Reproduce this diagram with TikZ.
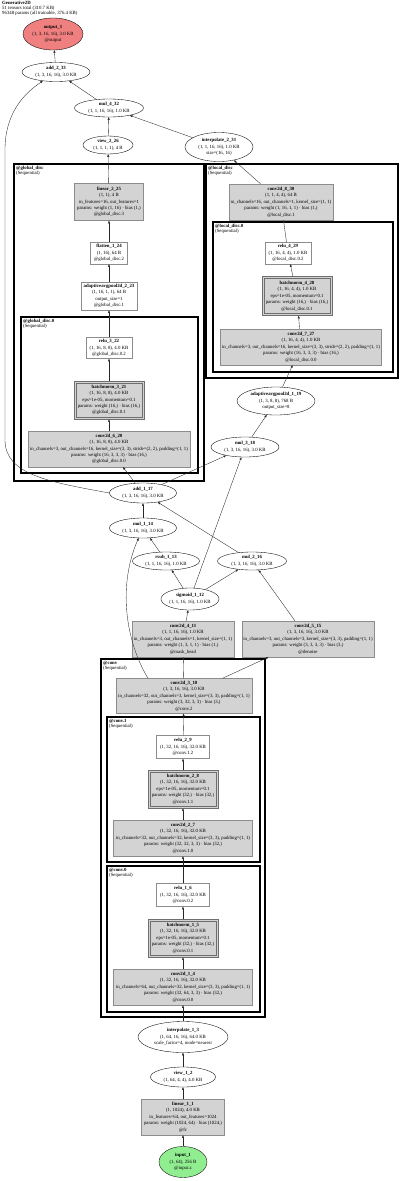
\documentclass[tikz,border=0pt]{standalone}
\usepackage{fontspec}
\setmainfont{Liberation Serif}
\usetikzlibrary{arrows.meta,shapes.geometric}
\definecolor{greyfill}{HTML}{D3D3D3}
\definecolor{greyline}{HTML}{8C8C8C}
\definecolor{normline}{HTML}{6E6E6E}
\definecolor{outred}{HTML}{F08080}
\definecolor{ingreen}{HTML}{90EE90}
\tikzset{>={Triangle[length=2.6pt,width=2pt]},every node/.style={font=\fontsize{4.8}{6.4}\selectfont,align=center},oval/.style={ellipse,draw=black,line width=.35pt,inner sep=0pt},plainbox/.style={draw=greyline,line width=.35pt,fill=white,inner sep=1.5pt},greybox/.style={draw=greyline,line width=.35pt,fill=greyfill,inner sep=1.5pt},normbox/.style={draw=normline,line width=.6pt,fill=greyfill,inner sep=1.5pt,path picture={\draw[normline,line width=.6pt] ([shift={(2pt,-2pt)}]path picture bounding box.north west) rectangle ([shift={(-2pt,2pt)}]path picture bounding box.south east);}},cluster/.style={draw=black,line width=1.7pt},clabel/.style={anchor=north west,inner sep=0pt,font=\fontsize{4.8}{5.2}\selectfont,align=left},arr/.style={->,line width=.35pt,black!85}}
\begin{document}
\begin{tikzpicture}[x=1pt,y=-1pt]
\useasboundingbox (0,0) rectangle (400,1181);
\node[clabel] (title) at (2,1) {\textbf{Generative2D}\\51 tensors total (310.7 KB)\\96348 params (all trainable, 376.4 KB)};
% clusters
\draw[cluster] (14,164) rectangle (204,481);
\draw[cluster] (21,317) rectangle (198,473);
\draw[cluster] (206,164) rectangle (398,378);
\draw[cluster] (213,222) rectangle (393,372);
\draw[cluster] (101,659) rectangle (265,1017);
\draw[cluster] (107,717) rectangle (260,862);
\draw[cluster] (107,866) rectangle (260,1012);
\node[clabel] (gdlab) at (16,166) {\textbf{@global\_disc}\\(Sequential)};
\node[clabel] (gd0lab) at (23,319) {\textbf{@global\_disc.0}\\(Sequential)};
\node[clabel] (ldlab) at (208,166) {\textbf{@local\_disc}\\(Sequential)};
\node[clabel] (ld0lab) at (215,224) {\textbf{@local\_disc.0}\\(Sequential)};
\node[clabel] (cvlab) at (103,661) {\textbf{@conv}\\(Sequential)};
\node[clabel] (cv1lab) at (109,719) {\textbf{@conv.1}\\(Sequential)};
\node[clabel] (cv0lab) at (109,868) {\textbf{@conv.0}\\(Sequential)};
% top
\node[oval,fill=outred,minimum width=60pt,minimum height=32pt] (output1) at (53,34) {\textbf{output\_1}\\(1, 3, 16, 16), 3.0 KB\\@output};
\node[oval,minimum width=68pt,minimum height=19pt] (add233) at (56,72) {\textbf{add\_2\_33}\\(1, 3, 16, 16), 3.0 KB};
\node[oval,minimum width=69pt,minimum height=18pt] (mul432) at (109,108) {\textbf{mul\_4\_32}\\(1, 1, 16, 16), 1.0 KB};
\node[oval,minimum width=50pt,minimum height=18pt] (view226) at (108,145) {\textbf{view\_2\_26}\\(1, 1, 1, 1), 4 B};
\node[oval,minimum width=68pt,minimum height=29pt] (interp231) at (219,147) {\textbf{interpolate\_2\_31}\\(1, 1, 16, 16), 1.0 KB\\size=(16, 16)};
% global disc
\node[greybox,minimum width=69pt,minimum height=37pt] (linear225) at (109,202) {\textbf{linear\_2\_25}\\(1, 1), 4 B\\in\_features=16, out\_features=1\\params: weight (1, 16) · bias (1,)\\@global\_disc.3};
\node[plainbox,minimum width=37pt,minimum height=22pt] (flat124) at (109,253) {\textbf{flatten\_1\_24}\\(1, 16), 64 B\\@global\_disc.2};
\node[plainbox,minimum width=56pt,minimum height=28pt] (pool223) at (109,296) {\textbf{adaptiveavgpool2d\_2\_23}\\(1, 16, 1, 1), 64 B\\output\_size=1\\@global\_disc.1};
\node[plainbox,minimum width=46pt,minimum height=21pt] (relu322) at (109,348) {\textbf{relu\_3\_22}\\(1, 16, 8, 8), 4.0 KB\\@global\_disc.0.2};
\node[normbox,minimum width=70pt,minimum height=38pt] (bn321) at (109,400) {\textbf{batchnorm\_3\_21}\\(1, 16, 8, 8), 4.0 KB\\eps=1e-05, momentum=0.1\\params: weight (16,) · bias (16,)\\@global\_disc.0.1};
\node[greybox,minimum width=162pt,minimum height=36pt] (conv620) at (109,449) {\textbf{conv2d\_6\_20}\\(1, 16, 8, 8), 4.0 KB\\in\_channels=3, out\_channels=16, kernel\_size=(3, 3), stride=(2, 2), padding=(1, 1)\\params: weight (16, 3, 3, 3) · bias (16,)\\@global\_disc.0.0};
% local disc
\node[greybox,minimum width=102pt,minimum height=36pt] (conv830) at (281,202) {\textbf{conv2d\_8\_30}\\(1, 1, 4, 4), 64 B\\in\_channels=16, out\_channels=1, kernel\_size=(1, 1)\\params: weight (1, 16, 1, 1) · bias (1,)\\@local\_disc.1};
\node[plainbox,minimum width=46pt,minimum height=22pt] (relu429) at (288,253) {\textbf{relu\_4\_29}\\(1, 16, 4, 4), 1.0 KB\\@local\_disc.0.2};
\node[normbox,minimum width=70pt,minimum height=39pt] (bn428) at (297,296) {\textbf{batchnorm\_4\_28}\\(1, 16, 4, 4), 1.0 KB\\eps=1e-05, momentum=0.1\\params: weight (16,) · bias (16,)\\@local\_disc.0.1};
\node[greybox,minimum width=161pt,minimum height=36pt] (conv727) at (301,347) {\textbf{conv2d\_7\_27}\\(1, 16, 4, 4), 1.0 KB\\in\_channels=3, out\_channels=16, kernel\_size=(3, 3), stride=(2, 2), padding=(1, 1)\\params: weight (16, 3, 3, 3) · bias (16,)\\@local\_disc.0.0};
% middle
\node[oval,minimum width=78pt,minimum height=28pt] (pool119) at (276,401) {\textbf{adaptiveavgpool2d\_1\_19}\\(1, 3, 8, 8), 768 B\\output\_size=8};
\node[oval,minimum width=68pt,minimum height=20pt] (mul318) at (245,447) {\textbf{mul\_3\_18}\\(1, 3, 16, 16), 3.0 KB};
\node[oval,minimum width=67pt,minimum height=20pt] (add117) at (143,493) {\textbf{add\_1\_17}\\(1, 3, 16, 16), 3.0 KB};
\node[oval,minimum width=67pt,minimum height=20pt] (mul114) at (143,528) {\textbf{mul\_1\_14}\\(1, 3, 16, 16), 3.0 KB};
\node[oval,minimum width=67pt,minimum height=18pt] (rsub113) at (166,561) {\textbf{rsub\_1\_13}\\(1, 1, 16, 16), 1.0 KB};
\node[oval,minimum width=69pt,minimum height=18pt] (mul216) at (252,561) {\textbf{mul\_2\_16}\\(1, 3, 16, 16), 3.0 KB};
\node[oval,minimum width=57pt,minimum height=22pt] (sig112) at (190,599) {\textbf{sigmoid\_1\_12}\\(1, 1, 16, 16), 1.0 KB};
\node[greybox,minimum width=102pt,minimum height=36pt] (conv411) at (183,639) {\textbf{conv2d\_4\_11}\\(1, 1, 16, 16), 1.0 KB\\in\_channels=3, out\_channels=1, kernel\_size=(1, 1)\\params: weight (1, 3, 1, 1) · bias (1,)\\@mask\_head};
\node[greybox,minimum width=132pt,minimum height=36pt] (conv515) at (308,639) {\textbf{conv2d\_5\_15}\\(1, 3, 16, 16), 3.0 KB\\in\_channels=3, out\_channels=3, kernel\_size=(3, 3), padding=(1, 1)\\params: weight (3, 3, 3, 3) · bias (3,)\\@denoise};
% conv
\node[greybox,minimum width=136pt,minimum height=35pt] (conv310) at (184,696) {\textbf{conv2d\_3\_10}\\(1, 3, 16, 16), 3.0 KB\\in\_channels=32, out\_channels=3, kernel\_size=(3, 3), padding=(1, 1)\\params: weight (3, 32, 3, 3) · bias (3,)\\@conv.2};
\node[plainbox,minimum width=53pt,minimum height=23pt] (relu29) at (183,747) {\textbf{relu\_2\_9}\\(1, 32, 16, 16), 32.0 KB\\@conv.1.2};
\node[normbox,minimum width=70pt,minimum height=38pt] (bn28) at (183,789) {\textbf{batchnorm\_2\_8}\\(1, 32, 16, 16), 32.0 KB\\eps=1e-05, momentum=0.1\\params: weight (32,) · bias (32,)\\@conv.1.1};
\node[greybox,minimum width=139pt,minimum height=36pt] (conv27) at (183,838) {\textbf{conv2d\_2\_7}\\(1, 32, 16, 16), 32.0 KB\\in\_channels=32, out\_channels=32, kernel\_size=(3, 3), padding=(1, 1)\\params: weight (32, 32, 3, 3) · bias (32,)\\@conv.1.0};
\node[plainbox,minimum width=53pt,minimum height=23pt] (relu16) at (183,895) {\textbf{relu\_1\_6}\\(1, 32, 16, 16), 32.0 KB\\@conv.0.2};
\node[normbox,minimum width=70pt,minimum height=38pt] (bn15) at (183,938) {\textbf{batchnorm\_1\_5}\\(1, 32, 16, 16), 32.0 KB\\eps=1e-05, momentum=0.1\\params: weight (32,) · bias (32,)\\@conv.0.1};
\node[greybox,minimum width=139pt,minimum height=36pt] (conv14) at (183,987) {\textbf{conv2d\_1\_4}\\(1, 32, 16, 16), 32.0 KB\\in\_channels=64, out\_channels=32, kernel\_size=(3, 3), padding=(1, 1)\\params: weight (32, 64, 3, 3) · bias (32,)\\@conv.0.0};
% bottom
\node[oval,minimum width=90pt,minimum height=31pt] (interp13) at (183,1037) {\textbf{interpolate\_1\_3}\\(1, 64, 16, 16), 64.0 KB\\scale\_factor=4, mode=nearest};
\node[oval,minimum width=65pt,minimum height=20pt] (view12) at (183,1077) {\textbf{view\_1\_2}\\(1, 64, 4, 4), 4.0 KB};
\node[greybox,minimum width=83pt,minimum height=36pt] (linear11) at (183,1117) {\textbf{linear\_1\_1}\\(1, 1024), 4.0 KB\\in\_features=64, out\_features=1024\\params: weight (1024, 64) · bias (1024,)\\@fc};
\node[oval,fill=ingreen,minimum width=48pt,minimum height=31pt] (input1) at (183,1162) {\textbf{input\_1}\\(1, 64), 256 B\\@input.z};
% edges
\foreach \a/\b in {input1/linear11,linear11/view12,view12/interp13,interp13/conv14,conv14/bn15,bn15/relu16,relu16/conv27,conv27/bn28,bn28/relu29,relu29/conv310,conv310/conv411,conv310/conv515,conv411/sig112,sig112/rsub113,sig112/mul216,sig112/mul318,rsub113/mul114,mul114/add117,mul216/add117,conv515/mul216,add117/mul318,add117/conv620,conv620/bn321,bn321/relu322,relu322/pool223,pool223/flat124,flat124/linear225,linear225/view226,mul318/pool119,pool119/conv727,conv727/bn428,bn428/relu429,relu429/conv830,conv830/interp231,interp231/mul432,view226/mul432,mul432/add233,add233/output1}{\draw[arr] (\a)--(\b);}
\draw[arr] ([xshift=-36pt]conv310.north) .. controls (125,640) and (118,585) .. (mul114);
\draw[arr] (add117.west) .. controls (50,482) and (5,475) .. (5,440) -- (5,150) .. controls (5,115) and (22,95) .. (add233);
\end{tikzpicture}
\end{document}
